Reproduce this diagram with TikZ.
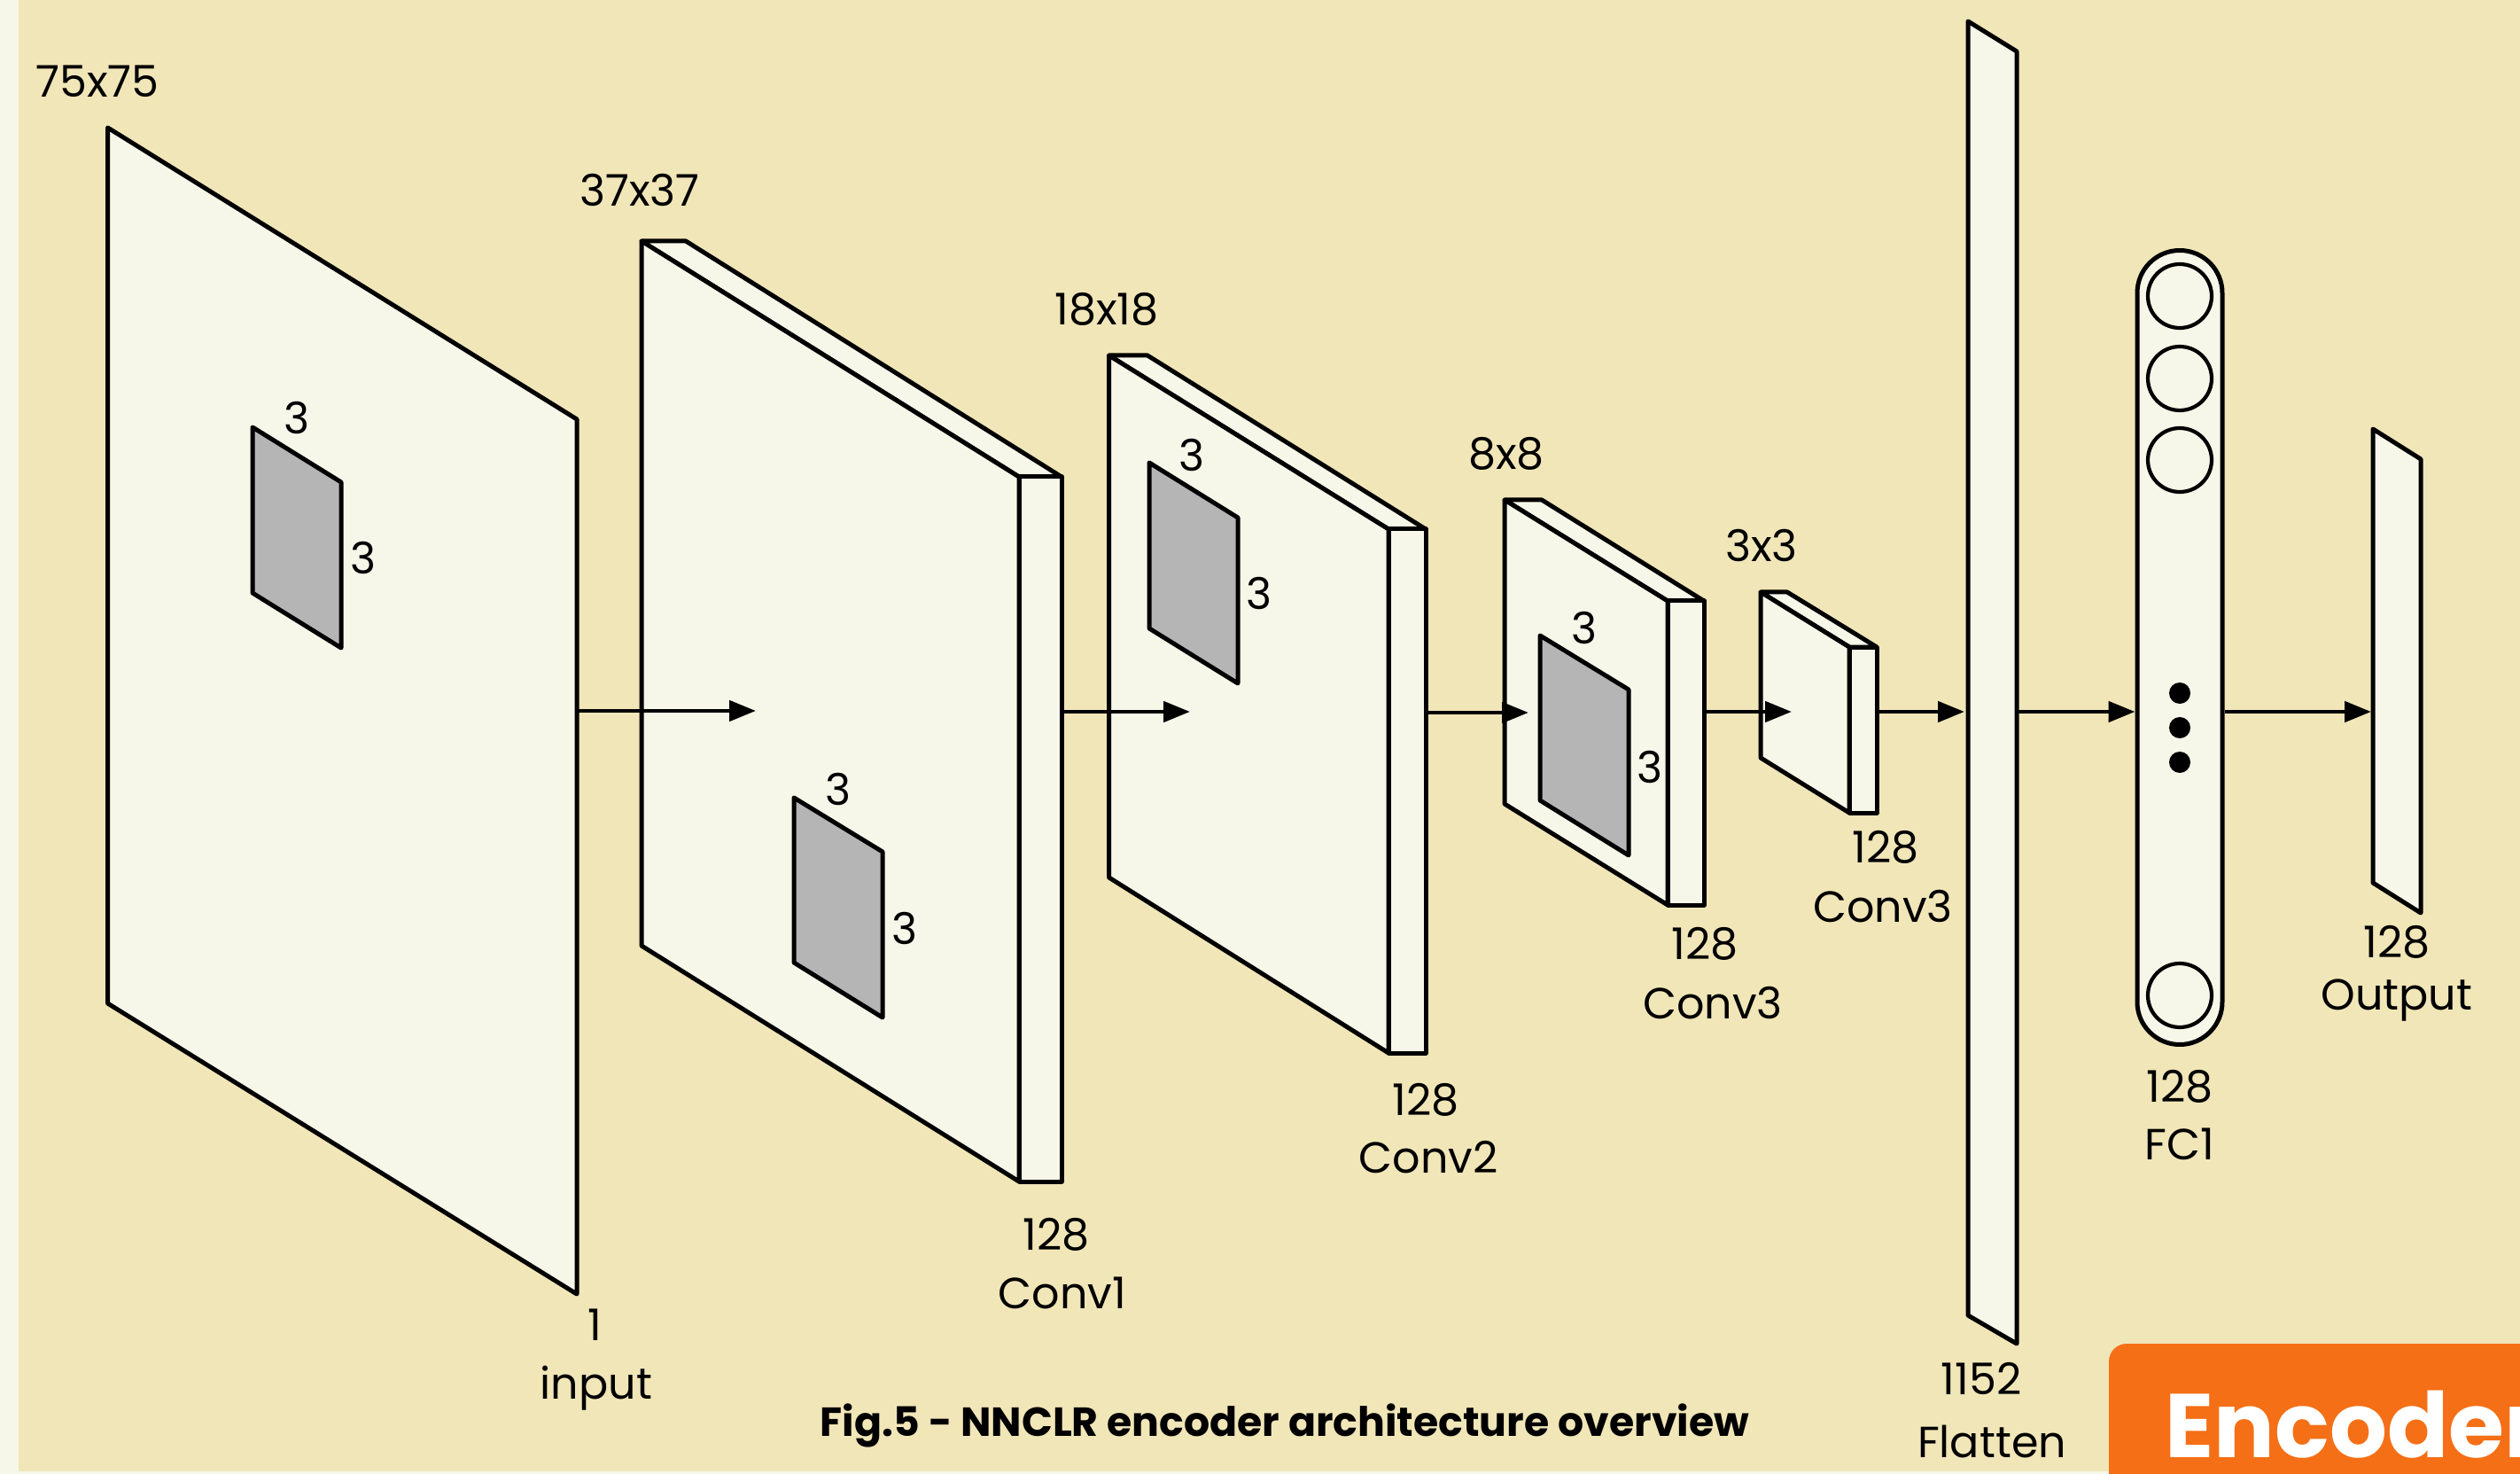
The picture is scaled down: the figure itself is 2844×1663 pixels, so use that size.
\documentclass[tikz,border=0pt]{standalone}
\usepackage{fontspec}
\setmainfont{Poppins}
\usetikzlibrary{arrows.meta}
\definecolor{bgcol}{HTML}{F1E6B8}
\definecolor{panel}{HTML}{F6F7E9}
\definecolor{kern}{HTML}{B5B5B5}
\definecolor{orng}{HTML}{F56F16}
\tikzset{
  x=0.5pt,y=-0.5pt,
  solid3d/.style={draw=black,fill=panel,line width=2.5pt,line join=round},
  kernelbox/.style={draw=black,fill=kern,line width=2.5pt,line join=round},
  flow/.style={draw=black,line width=2.4pt,-{Triangle[length=15pt,width=11.5pt,sharp]}},
  lbl/.style={anchor=base,inner sep=0pt,font=\fontsize{24.6}{28}\selectfont},
  neuron/.style={circle,draw=black,fill=panel,line width=2.1pt,minimum size=36pt,inner sep=0pt},
  blob/.style={circle,fill=black,minimum size=12pt,inner sep=0pt},
}
\begin{document}
\begin{tikzpicture}
\useasboundingbox (0,0) rectangle (2844,1663);
\fill[panel] (0,0) rectangle (2844,1663);
\fill[bgcol] (21,0) rectangle (2844,1660);
% input
\draw[solid3d] (121.5,144) -- (651,473) -- (651,1460) -- (121.5,1132) -- cycle;
\draw[kernelbox] (285,482) -- (385,544) -- (385,731) -- (285,669) -- cycle;
% conv1
\draw[solid3d] (724,272) -- (774,272) -- (1198,538) -- (1150,538) -- cycle;
\draw[solid3d] (1150,538) -- (1198,538) -- (1198,1333) -- (1150,1333) -- cycle;
\draw[solid3d] (724,272) -- (1150,538) -- (1150,1333) -- (724,1067) -- cycle;
\draw[kernelbox] (896,900) -- (996,961) -- (996,1148) -- (896,1086) -- cycle;
% conv2
\draw[solid3d] (1251.5,401) -- (1295,401) -- (1609,597) -- (1567,597) -- cycle;
\draw[solid3d] (1567,597) -- (1609,597) -- (1609,1188) -- (1567,1188) -- cycle;
\draw[solid3d] (1251.5,401) -- (1567,597) -- (1567,1188) -- (1251.5,990) -- cycle;
\draw[kernelbox] (1297,522) -- (1397,584) -- (1397,771) -- (1297,709) -- cycle;
% conv3a
\draw[solid3d] (1698,564) -- (1740,564) -- (1923,678) -- (1882,678) -- cycle;
\draw[solid3d] (1882,678) -- (1923,678) -- (1923,1021) -- (1882,1021) -- cycle;
\draw[solid3d] (1698,564) -- (1882,678) -- (1882,1021) -- (1698,907) -- cycle;
\draw[kernelbox] (1738,717) -- (1838,778) -- (1838,965) -- (1738,903) -- cycle;
% conv3b
\draw[solid3d] (1987,668) -- (2017,668) -- (2118,730) -- (2087,730) -- cycle;
\draw[solid3d] (2087,730) -- (2118,730) -- (2118,917) -- (2087,917) -- cycle;
\draw[solid3d] (1987,668) -- (2087,730) -- (2087,917) -- (1987,855) -- cycle;
% flatten
\draw[solid3d] (2221,24) -- (2276,58) -- (2276,1516) -- (2221,1484) -- cycle;
% fc1
\node[solid3d,rounded corners=24pt,minimum width=48pt,minimum height=448pt,inner sep=0pt] (fc1) at (2460,730.5) {};
\node[neuron] (n1) at (2460,334) {};
\node[neuron] (n2) at (2460,427) {};
\node[neuron] (n3) at (2460,519) {};
\node[neuron] (n4) at (2460,1123) {};
\node[blob] (d1) at (2460,782) {};
\node[blob] (d2) at (2460,821) {};
\node[blob] (d3) at (2460,860) {};
% output
\draw[solid3d] (2678,484) -- (2732,518) -- (2732,1030) -- (2678,996) -- cycle;
% connector anchors
\coordinate (a1) at (651,802); \coordinate (b1) at (853,802);
\coordinate (a2) at (1198,803); \coordinate (b2) at (1343,803);
\coordinate (a3) at (1609,804); \coordinate (b3) at (1725,804);
\coordinate (a4) at (1923,803); \coordinate (b4) at (2022,803);
\coordinate (a5) at (2118,803); \coordinate (b5) at (2217,803);
\coordinate (a6) at (2276,803); \coordinate (a7) at (2508,803);
\coordinate (b7) at (2676,803);
\draw[flow] (a1) -- (b1);
\draw[flow] (a2) -- (b2);
\draw[flow] (a3) -- (b3);
\draw[flow] (a4) -- (b4);
\draw[flow] (a5) -- (b5);
\draw[flow] (a6) -- (fc1.west |- a6);
\draw[flow] (fc1.east |- a7) -- (b7);
% labels
\node[lbl] (s1) at (110,110) {75x75};
\node[lbl] (s2) at (722,233) {37x37};
\node[lbl] (s3) at (1249,367) {18x18};
\node[lbl] (s4) at (1700,530) {8x8};
\node[lbl] (s5) at (1988,634) {3x3};
\node[lbl] (k1) at (335,490) {3};
\node[lbl] (k2) at (410,648) {3};
\node[lbl] (k3) at (946,908) {3};
\node[lbl] (k4) at (1021,1065) {3};
\node[lbl] (k5) at (1345,532) {3};
\node[lbl] (k6) at (1421,688) {3};
\node[lbl] (k7) at (1788,726) {3};
\node[lbl] (k8) at (1862,883) {3};
\node[lbl] (t1) at (671,1512) {1};
\node[lbl] (t2) at (673,1578) {input};
\node[lbl] (t3) at (1192,1410) {128};
\node[lbl] (t4) at (1199,1476) {Conv1};
\node[lbl] (t5) at (1609,1258) {128};
\node[lbl] (t6) at (1612,1323) {Conv2};
\node[lbl] (t7) at (1924,1082) {128};
\node[lbl] (t8) at (1933,1149) {Conv3};
\node[lbl] (t9) at (2128,973) {128};
\node[lbl] (t10) at (2125,1040) {Conv3};
\node[lbl] (t11) at (2236,1573) {1152};
\node[lbl] (t12) at (2248,1644) {Flatten};
\node[lbl] (t13) at (2460,1243) {128};
\node[lbl] (t14) at (2460,1308) {FC1};
\node[lbl] (t15) at (2705,1080) {128};
\node[lbl] (t16) at (2705,1139) {Output};
\node[lbl,font=\fontsize{22.9}{26}\selectfont\bfseries] (cap) at (1450,1620) {Fig.5 - NNCLR encoder architecture overview};
% encoder tab
\begin{scope}
\clip (0,0) rectangle (2844,1663);
\fill[orng,rounded corners=10pt] (2380,1700) -- (2380,1516) -- (2900,1516) -- (2900,1700) -- cycle;
\node[anchor=base west,inner sep=0pt,text=white,font=\fontsize{51}{60}\selectfont\bfseries] (enc) at (2443,1644) {Encoder};
\end{scope}
\end{tikzpicture}
\end{document}
